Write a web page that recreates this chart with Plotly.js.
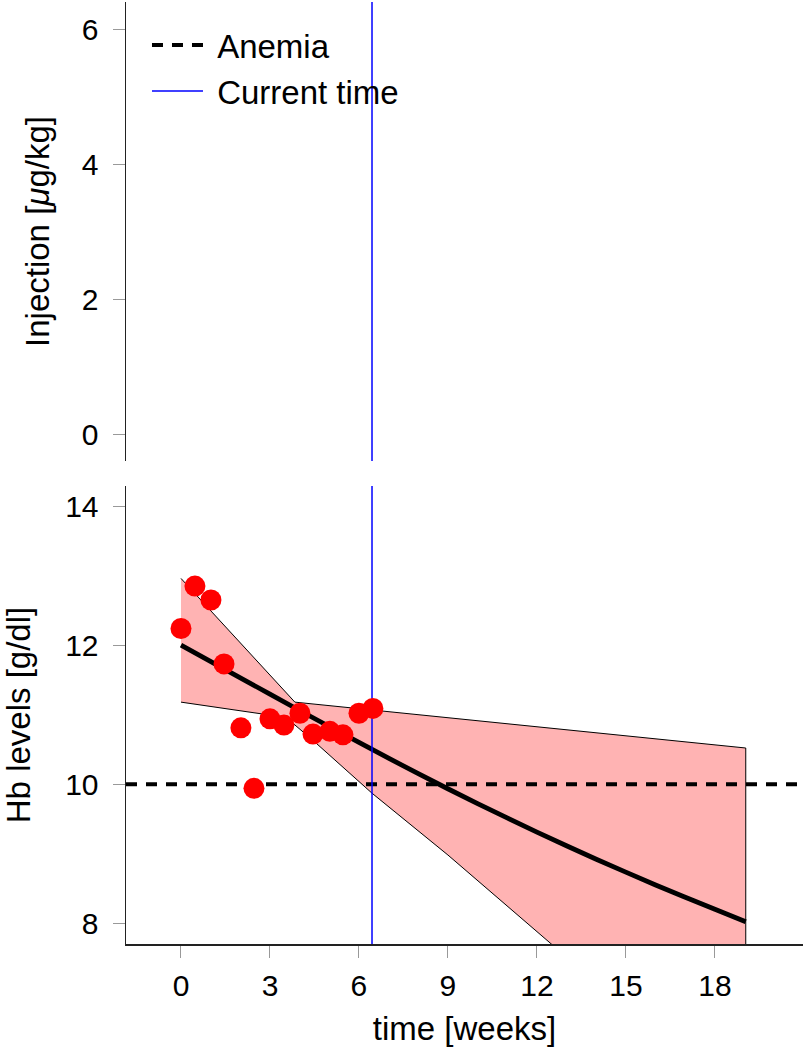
<!DOCTYPE html>
<html>
<head>
<meta charset="utf-8">
<script src="https://cdn.plot.ly/plotly-3.0.1.min.js"></script>
<style>html,body{margin:0;padding:0;background:#fff;}#chart{width:804px;height:1054px;}</style>
</head>
<body>
<div id="chart"></div>
<script>
// ---- data ----
const obsTime = [0, 0.47, 1.01, 1.45, 2.02, 2.46, 3.0, 3.47, 4.01, 4.45, 5.02, 5.46, 6.0, 6.47];
const obsHb   = [12.24, 12.85, 12.65, 11.73, 10.81, 9.94, 10.94, 10.85, 11.02, 10.72, 10.76, 10.71, 11.02, 11.09];

const meanTime = [0, 2, 4, 6, 8, 10, 12, 14, 16, 18, 19.04];
const meanHb   = [12.0, 11.53, 11.06, 10.60, 10.15, 9.72, 9.31, 8.92, 8.55, 8.20, 8.02];

const bandUpperTime = [0, 3.84, 19.04];
const bandUpperHb   = [12.96, 11.18, 10.52];
const bandLowerTime = [0, 3.54, 4.45, 6.44, 9.0, 12.54, 19.04];
const bandLowerHb   = [11.18, 10.96, 10.63, 9.87, 8.98, 7.68, 5.6];

const anemiaLevel = 10;
const currentTime = 6.44;

const xTicks = [0, 3, 6, 9, 12, 15, 18];
const injTicks = [0, 2, 4, 6];
const hbTicks = [8, 10, 12, 14];

// ---- axis ranges (layout) ----
const xRange = [-1.854, 20.97];
const injRange = [-0.39, 6.404];
const hbRange = [7.70, 14.29];

// band polygon built from upper and lower boundaries
const bandX = bandUpperTime.concat(bandLowerTime.slice().reverse());
const bandY = bandUpperHb.concat(bandLowerHb.slice().reverse());

const FONT = 'Liberation Sans, Arial, Helvetica, sans-serif';
const NB = '\u00A0';

const traces = [
  { x: bandX, y: bandY, xaxis: 'x', yaxis: 'y', type: 'scatter', mode: 'lines',
    fill: 'toself', fillcolor: 'rgb(255,179,179)', line: {color: '#000', width: 1},
    showlegend: false, hoverinfo: 'skip' },
  { x: meanTime, y: meanHb, xaxis: 'x', yaxis: 'y', type: 'scatter', mode: 'lines',
    line: {color: '#000', width: 4.8, shape: 'spline', smoothing: 0.8}, showlegend: false },
  { x: xRange, y: [anemiaLevel, anemiaLevel], xaxis: 'x', yaxis: 'y', type: 'scatter', mode: 'lines',
    name: NB + 'Anemia', line: {color: '#000', width: 4, dash: '11px,9px'}, showlegend: true },
  { x: [currentTime, currentTime], y: injRange, xaxis: 'x', yaxis: 'y2', type: 'scatter', mode: 'lines',
    name: NB + 'Current time', line: {color: '#0000ff', width: 1.5}, showlegend: true },
  { x: [currentTime, currentTime], y: hbRange, xaxis: 'x', yaxis: 'y', type: 'scatter', mode: 'lines',
    name: 'Current time', line: {color: '#0000ff', width: 1.5}, showlegend: false },
  { x: obsTime, y: obsHb, xaxis: 'x', yaxis: 'y', type: 'scatter', mode: 'markers',
    marker: {color: '#ff0000', size: 21}, showlegend: false }
];

const axisCommon = {
  showgrid: false, zeroline: false, showline: true, linecolor: '#222', linewidth: 1.5,
  ticks: 'outside', ticklen: 12, tickcolor: '#999', tickwidth: 1,
  tickfont: {family: FONT, size: 30, color: '#000'}
};

const layout = {
  width: 804, height: 1054,
  margin: {l: 126, r: 1, t: 2, b: 110},
  paper_bgcolor: '#fff', plot_bgcolor: '#fff',
  font: {family: FONT, color: '#000'},
  showlegend: true,
  legend: {x: 0.031, y: 0.984, xanchor: 'left', yanchor: 'top',
           font: {family: FONT, size: 33, color: '#000'}, bgcolor: 'rgba(0,0,0,0)',
           itemwidth: 51, tracegroupgap: 0},
  xaxis: Object.assign({}, axisCommon, {
    anchor: 'y', range: xRange, tickvals: xTicks, ticktext: xTicks.map(String),
    ticklabelstandoff: 2,
    title: {text: 'time [weeks]', font: {family: FONT, size: 33, color: '#000'}, standoff: 16}
  }),
  yaxis: Object.assign({}, axisCommon, {
    domain: [0, 0.4862], range: hbRange, tickvals: hbTicks, ticktext: hbTicks.map(String),
    ticklabelstandoff: 8,
    title: {text: 'Hb levels [g/dl]', font: {family: FONT, size: 33, color: '#000'}, standoff: 24}
  }),
  yaxis2: Object.assign({}, axisCommon, {
    domain: [0.5127, 1], range: injRange, tickvals: injTicks, ticktext: injTicks.map(String),
    anchor: 'x', ticklabelstandoff: 8,
    title: {text: 'Injection [<i>μ</i>g/kg]', font: {family: FONT, size: 33, color: '#000'}, standoff: 22}
  })
};

Plotly.newPlot('chart', traces, layout, {displayModeBar: false, staticPlot: true});
</script>
</body>
</html>
